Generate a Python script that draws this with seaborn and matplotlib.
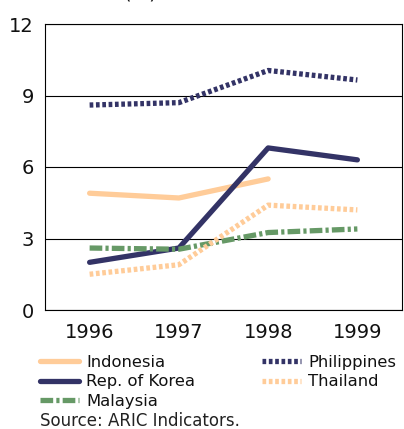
import numpy as np
import pandas as pd
import seaborn as sns
import matplotlib.pyplot as plt

YEARS = ["1996", "1997", "1998", "1999"]
COUNTRIES = ["Indonesia", "Rep. of Korea", "Malaysia", "Philippines", "Thailand"]

indonesia = [4.9, 4.7, 5.5, np.nan]
korea = [2.0, 2.6, 6.8, 6.3]
malaysia = [2.6, 2.55, 3.25, 3.4]
philippines = [8.6, 8.7, 10.05, 9.65]
thailand = [1.5, 1.9, 4.4, 4.2]

SERIES = [indonesia, korea, malaysia, philippines, thailand]
COLORS = ["#FFCC99", "#333366", "#669966", "#333366", "#FFCC99"]
DASHES = ["", "", (2.4, 0.6, 0.6, 0.6), (0.7, 0.5), (0.7, 0.5)]

rows = []
for name, vals in zip(COUNTRIES, SERIES):
    for yr, v in zip(YEARS, vals):
        rows.append({"Year": yr, "Value": v, "Country": name})
df = pd.DataFrame(rows).dropna()

sns.set_style("white")
plt.rcParams["font.family"] = ["DejaVu Sans"]
plt.rcParams["text.color"] = "#111111"

fig = plt.figure(figsize=(4.04, 4.29), dpi=100)
ax = fig.add_axes([45 / 404, 1 - 310 / 429, 357 / 404, 286 / 429])

sns.lineplot(
    data=df, x="Year", y="Value", hue="Country", style="Country",
    hue_order=COUNTRIES, style_order=COUNTRIES,
    palette=dict(zip(COUNTRIES, COLORS)),
    dashes=dict(zip(COUNTRIES, DASHES)),
    linewidth=3.8, ax=ax, sort=False,
)

ax.set_xlim(-0.5, 3.5)
ax.set_ylim(0, 12)
ax.set_yticks([0, 3, 6, 9, 12])
ax.set_xlabel("")
ax.set_ylabel("")
ax.yaxis.grid(True, color="black", linewidth=0.8)
ax.xaxis.grid(False)
for s in ax.spines.values():
    s.set_visible(True)
    s.set_color("black")
    s.set_linewidth(0.8)
ax.set_xticks([-0.5, 0.5, 1.5, 2.5, 3.5], minor=True)
ax.tick_params(axis="x", which="minor", length=5, width=0.8, color="black", direction="out")
ax.tick_params(axis="x", which="major", length=0, pad=9, labelsize=14, labelcolor="#111111")
ax.tick_params(axis="y", which="major", length=0, pad=8, labelsize=14, labelcolor="#111111")

handles, labels = ax.get_legend_handles_labels()
ax.get_legend().remove()
fig.legend(handles, labels, ncol=2, loc="upper left",
           bbox_to_anchor=(40 / 404, 1 - 355 / 429), frameon=False,
           fontsize=11.8, handlelength=2.4, handletextpad=0.4,
           columnspacing=4.1, labelspacing=0.26, borderpad=0, borderaxespad=0)

fig.text(40 / 404, 0.006, "Source: ARIC Indicators.", fontsize=12,
         color="#222222", va="baseline")
fig.text(140 / 404, 1.003, "(%)", fontsize=14, ha="center", va="baseline")

fig.savefig("out.png", dpi=100)
